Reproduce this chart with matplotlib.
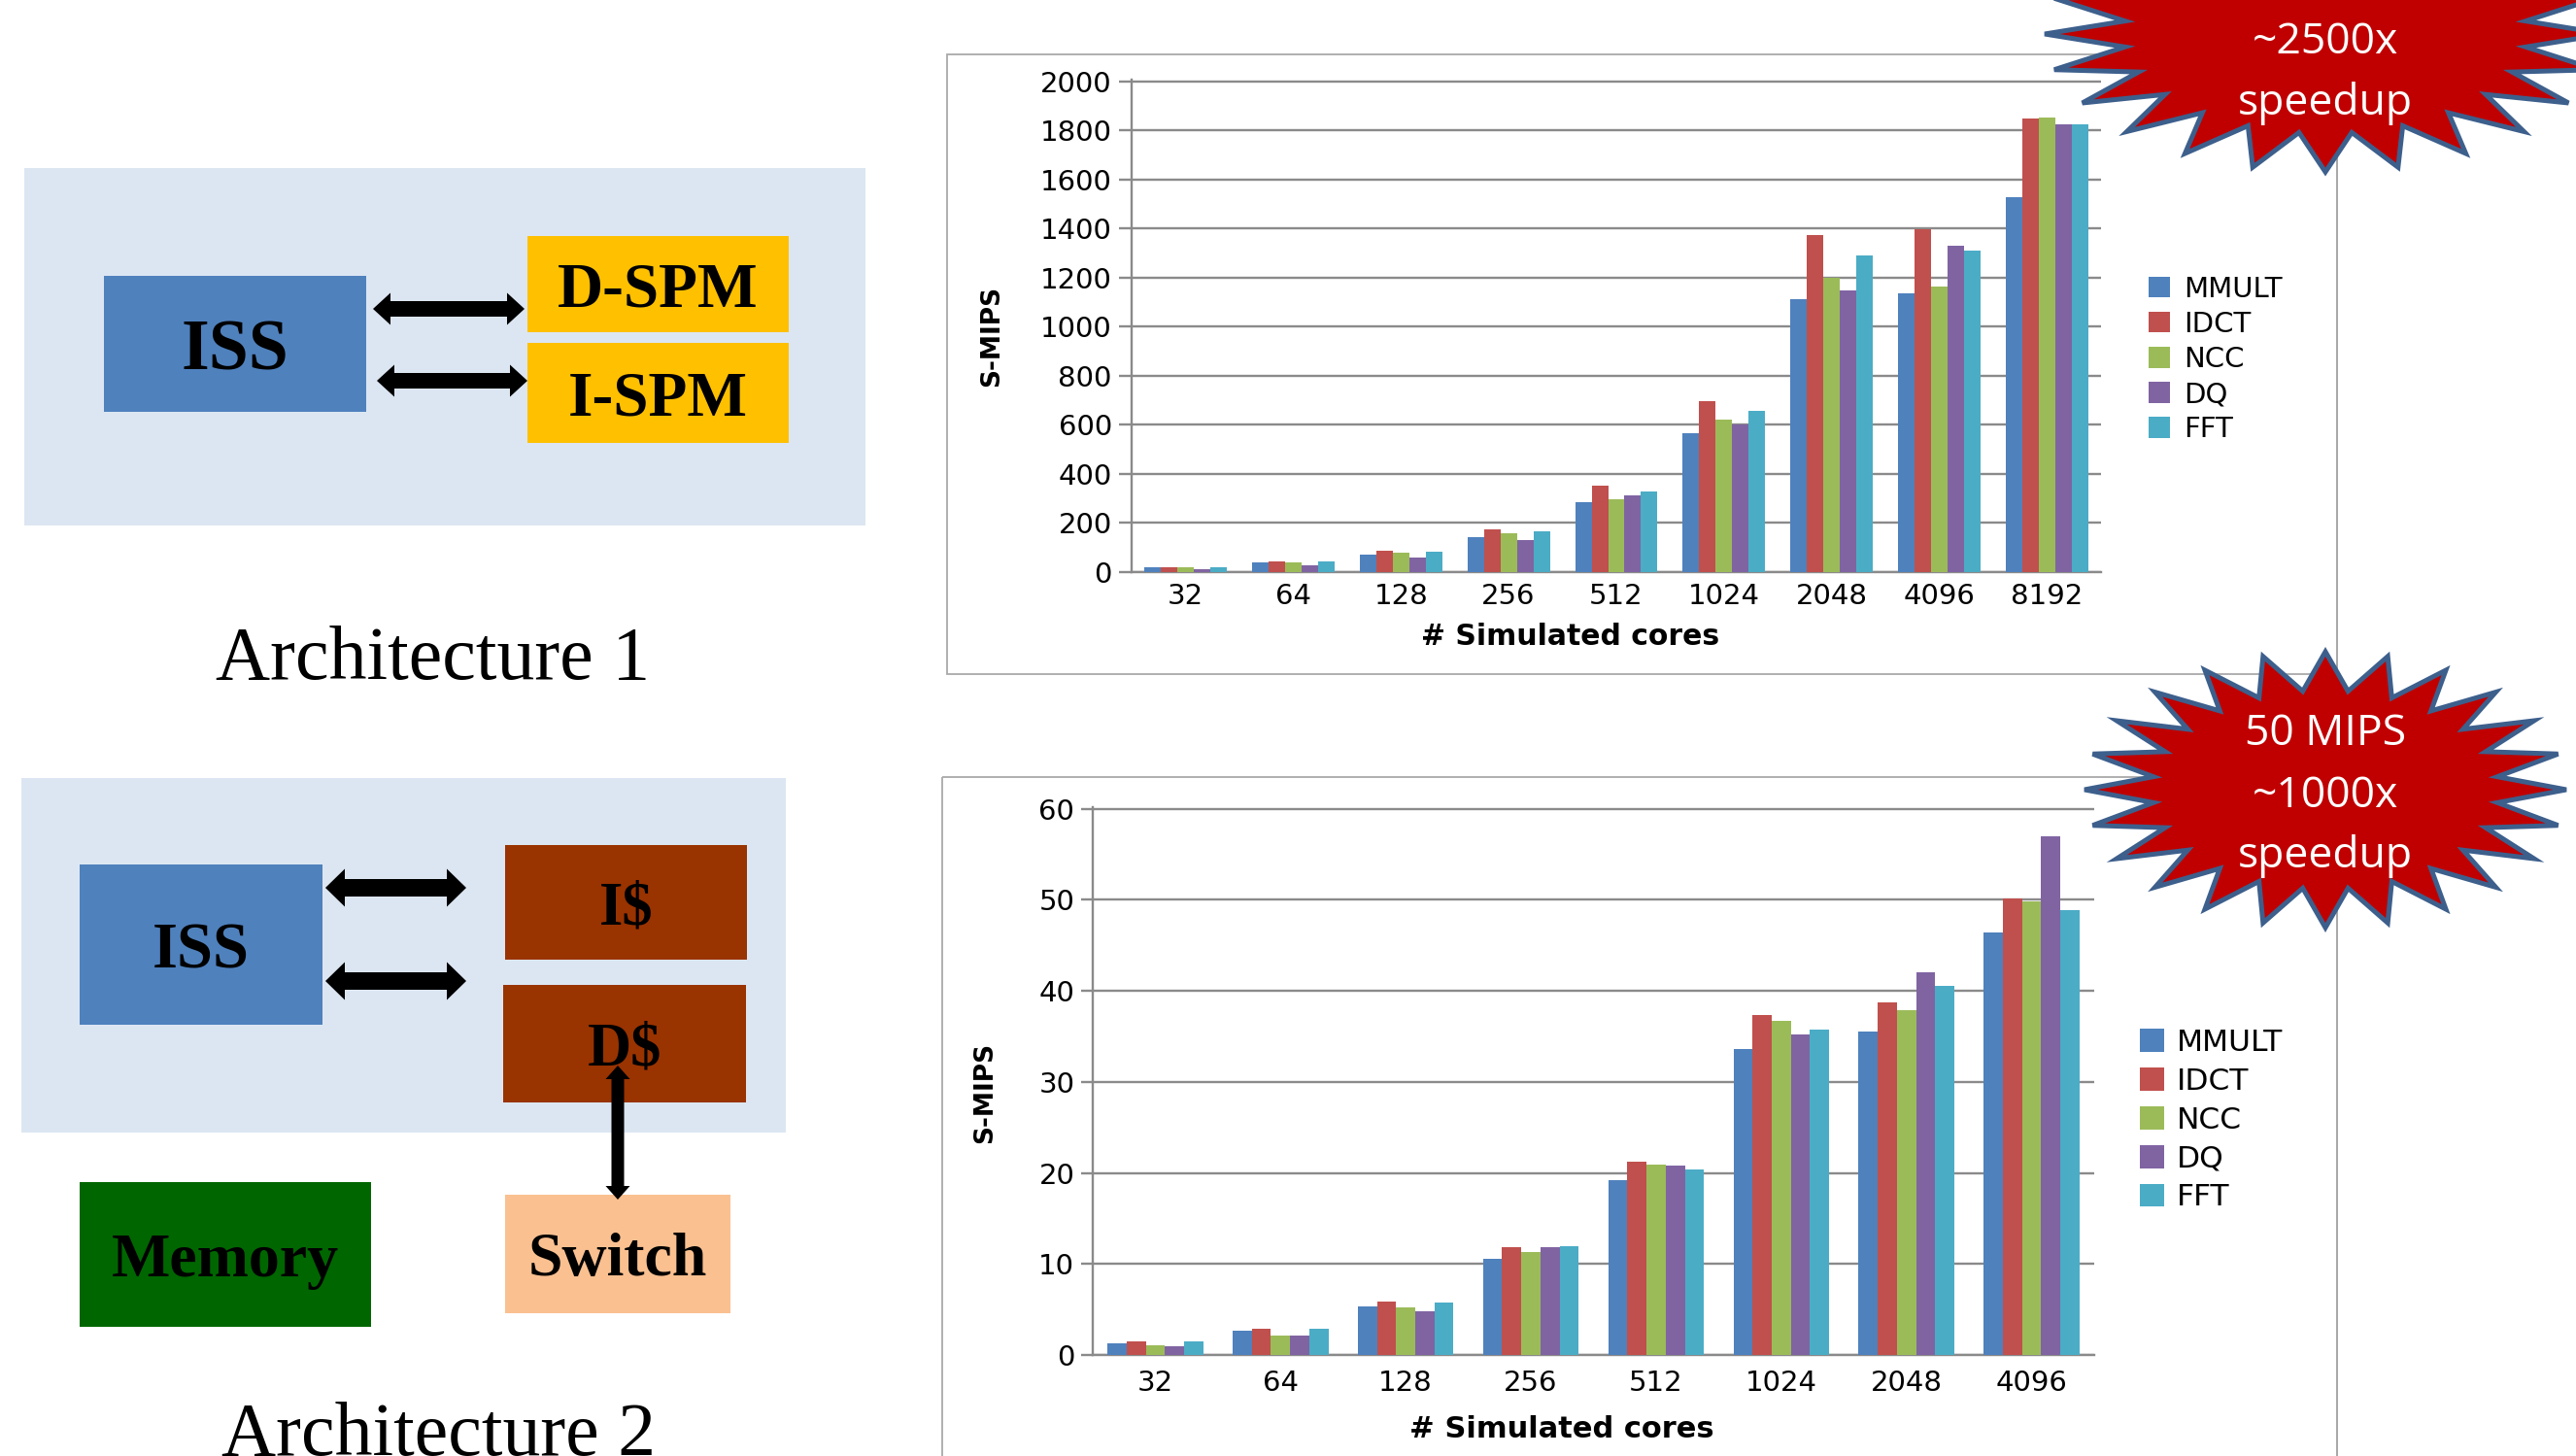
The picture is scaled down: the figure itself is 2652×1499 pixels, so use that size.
"""Recreate the architecture / S-MIPS scaling slide."""

from __future__ import annotations

import matplotlib

matplotlib.use("Agg")
import matplotlib.pyplot as plt
import numpy as np
from matplotlib.patches import Polygon, Rectangle

W, H = 2652, 1499
DPI = 100

BENCHMARKS = ["MMULT", "IDCT", "NCC", "DQ", "FFT"]
COLORS = ["#4F81BD", "#C0504D", "#9BBB59", "#8064A2", "#4BACC6"]
GRID = "#8A8A8A"
FRAME = "#A9A9A9"

# Architecture 1: scratchpad memories
ARCH1_CORES = ["32", "64", "128", "256", "512", "1024", "2048", "4096", "8192"]
ARCH1_MMULT = [20, 38, 70, 142, 285, 565, 1110, 1136, 1529]
ARCH1_IDCT = [21, 44, 87, 175, 352, 697, 1373, 1396, 1849]
ARCH1_NCC = [21, 39, 79, 159, 298, 623, 1197, 1165, 1851]
ARCH1_DQ = [13, 28, 59, 129, 313, 601, 1149, 1329, 1825]
ARCH1_FFT = [20, 43, 83, 165, 329, 655, 1291, 1309, 1825]

# Architecture 2: caches + switch
ARCH2_CORES = ["32", "64", "128", "256", "512", "1024", "2048", "4096"]
ARCH2_MMULT = [1.3, 2.7, 5.3, 10.6, 19.2, 33.6, 35.5, 46.4]
ARCH2_IDCT = [1.5, 2.9, 5.9, 11.8, 21.2, 37.3, 38.7, 50.1]
ARCH2_NCC = [1.1, 2.1, 5.2, 11.3, 20.9, 36.7, 37.9, 49.8]
ARCH2_DQ = [0.95, 2.1, 4.8, 11.8, 20.8, 35.2, 42.0, 57.0]
ARCH2_FFT = [1.5, 2.9, 5.8, 11.9, 20.4, 35.7, 40.5, 48.9]


def fig_rect(x0: float, y0: float, x1: float, y1: float) -> list[float]:
    """Pixel box (top-left origin) -> figure fraction rect."""
    return [x0 / W, 1 - y1 / H, (x1 - x0) / W, (y1 - y0) / H]


def bar_chart(ax, cores, series, ymax, ystep, tick_len, xpad) -> None:
    x = np.arange(len(cores))
    width = 0.153
    for i, (name, values, color) in enumerate(zip(BENCHMARKS, series, COLORS)):
        ax.bar(x + (i - 2) * width, values, width, color=color, label=name, zorder=3)
    ax.set_xlim(-0.5, len(cores) - 0.5)
    ax.set_ylim(0, ymax * 1.003)
    ax.set_yticks(np.arange(0, ymax + 1e-9, ystep))
    ax.set_xticks(x, cores)
    ax.grid(axis="y", color=GRID, linewidth=1.7, zorder=0)
    ax.set_axisbelow(True)
    for side in ("top", "right"):
        ax.spines[side].set_visible(False)
    for side in ("left", "bottom"):
        ax.spines[side].set_color(GRID)
        ax.spines[side].set_linewidth(1.7)
    ax.tick_params(axis="y", length=tick_len, width=1.7, color=GRID, pad=5, labelsize=21)
    ax.tick_params(axis="x", length=0, pad=xpad, labelsize=21)
    ax.patch.set_alpha(0)


def add_legend(ax, fig, x, y, size, hsize, textpad, spacing) -> None:
    ax.legend(
        loc="center left",
        bbox_to_anchor=(x / W, 1 - y / H),
        bbox_transform=fig.transFigure,
        frameon=False,
        fontsize=size,
        handlelength=hsize,
        handleheight=hsize,
        handletextpad=textpad,
        labelspacing=spacing,
        borderpad=0,
        borderaxespad=0,
    )


def star_outline(cx, cy, rx, ry, points=24, inner=0.72) -> np.ndarray:
    idx = np.arange(2 * points)
    ang = np.pi / 2 + idx * np.pi / points
    r = np.where(idx % 2 == 0, 1.0, inner)
    return np.column_stack([cx + rx * r * np.cos(ang), cy - ry * r * np.sin(ang)])


def h_arrow(ax, x0, x1, y, shaft, head_w, head_l) -> None:
    s, h = shaft / 2, head_w / 2
    pts = [
        (x0, y), (x0 + head_l, y - h), (x0 + head_l, y - s), (x1 - head_l, y - s),
        (x1 - head_l, y - h), (x1, y), (x1 - head_l, y + h), (x1 - head_l, y + s),
        (x0 + head_l, y + s), (x0 + head_l, y + h),
    ]
    ax.add_patch(Polygon(pts, closed=True, facecolor="black", edgecolor="none", zorder=4))


def v_arrow(ax, x, y0, y1, shaft, head_w, head_l) -> None:
    s, h = shaft / 2, head_w / 2
    pts = [
        (x, y0), (x + h, y0 + head_l), (x + s, y0 + head_l), (x + s, y1 - head_l),
        (x + h, y1 - head_l), (x, y1), (x - h, y1 - head_l), (x - s, y1 - head_l),
        (x - s, y0 + head_l), (x - h, y0 + head_l),
    ]
    ax.add_patch(Polygon(pts, closed=True, facecolor="black", edgecolor="none", zorder=4))


def box(ax, x0, y0, x1, y1, color, text=None, size=46) -> None:
    ax.add_patch(Rectangle((x0, y0), x1 - x0, y1 - y0, facecolor=color, edgecolor="none", zorder=2))
    if text:
        ax.text((x0 + x1) / 2, (y0 + y1) / 2, text, ha="center", va="center_baseline",
                fontsize=size, fontweight="bold", family="Liberation Serif", zorder=3)


def draw_diagrams(ax) -> None:
    # Architecture 1
    box(ax, 25, 173, 891, 541, "#DCE6F2")
    box(ax, 107, 284, 377, 424, "#4F81BD", "ISS", 53)
    box(ax, 543, 243, 812, 342, "#FFC000", "D-SPM", 47)
    box(ax, 543, 353, 812, 456, "#FFC000", "I-SPM", 47)
    h_arrow(ax, 384, 540, 318, 16, 33, 18)
    h_arrow(ax, 388, 543, 392, 16, 33, 18)
    ax.text(446, 699, "Architecture 1", ha="center", va="baseline", fontsize=56,
            family="Liberation Serif")

    # Architecture 2 (caption runs off the bottom edge, as on the slide)
    box(ax, 22, 801, 809, 1166, "#DCE6F2")
    box(ax, 82, 890, 332, 1055, "#4F81BD", "ISS", 48)
    box(ax, 520, 870, 769, 988, "#993300", "I$", 45)
    box(ax, 518, 1014, 768, 1135, "#993300", "D$", 45)
    box(ax, 82, 1217, 382, 1366, "#006600", "Memory", 46)
    box(ax, 520, 1230, 752, 1352, "#FAC090", "Switch", 46)
    h_arrow(ax, 335, 480, 914, 18, 39, 20)
    h_arrow(ax, 335, 480, 1010, 18, 39, 20)
    v_arrow(ax, 636, 1097, 1235, 13, 25, 14)
    ax.text(451, 1498, "Architecture 2", ha="center", va="baseline", fontsize=56,
            family="Liberation Serif")


def draw_callouts(ax) -> None:
    # chart frames + the shared right border
    ax.add_patch(Rectangle((975, 56), 2406 - 975, 694 - 56, fill=False, edgecolor=FRAME, linewidth=1.3))
    ax.add_patch(Rectangle((970, 800), 2406 - 970, 800, fill=False, edgecolor=FRAME, linewidth=1.3))
    ax.plot([2406, 2406], [0, H], color=FRAME, linewidth=1.3)

    for cx, cy, rx, ry, lines in [
        (2394, 35, 289, 142, [("~2500x", 55), ("speedup", 118)]),
        (2394, 813, 248, 142, [("50 MIPS", 767), ("~1000x", 831), ("speedup", 893)]),
    ]:
        ax.add_patch(Polygon(star_outline(cx, cy, rx, ry), closed=True, facecolor="#C00000",
                             edgecolor="#3D5F8C", linewidth=3.6, zorder=5))
        for text, base in lines:
            ax.text(cx, base, text, ha="center", va="baseline", color="white", fontsize=32,
                    family="Open Sans", zorder=6)


def main() -> None:
    fig = plt.figure(figsize=(W / DPI, H / DPI), dpi=DPI)
    fig.patch.set_facecolor("white")

    top = fig.add_axes(fig_rect(1165, 82, 2163, 589))
    bar_chart(top, ARCH1_CORES, [ARCH1_MMULT, ARCH1_IDCT, ARCH1_NCC, ARCH1_DQ, ARCH1_FFT],
              2000, 200, 9.5, 8)
    top.set_xlabel("# Simulated cores", fontsize=21.5, fontweight="bold")
    top.set_ylabel("S-MIPS", fontsize=19, fontweight="bold")
    top.xaxis.set_label_coords((1617 - 1165) / 998, (589 - 655) / 507)
    top.yaxis.set_label_coords((1021 - 1165) / 998, (589 - 346) / 507)
    top.xaxis.label.set_va("center")
    top.yaxis.label.set_va("center")
    add_legend(top, fig, 2212, 370, 21, 0.75, 0.5, 0.28)

    bottom = fig.add_axes(fig_rect(1125, 831, 2156, 1395))
    bar_chart(bottom, ARCH2_CORES, [ARCH2_MMULT, ARCH2_IDCT, ARCH2_NCC, ARCH2_DQ, ARCH2_FFT],
              60, 10, 8.5, 11)
    bottom.set_xlabel("# Simulated cores", fontsize=22, fontweight="bold")
    bottom.set_ylabel("S-MIPS", fontsize=19, fontweight="bold")
    bottom.xaxis.set_label_coords((1608 - 1125) / 1031, (1395 - 1471) / 564)
    bottom.yaxis.set_label_coords((1014 - 1125) / 1031, (1395 - 1125) / 564)
    bottom.xaxis.label.set_va("center")
    bottom.yaxis.label.set_va("center")
    add_legend(bottom, fig, 2203, 1153, 22.5, 0.8, 0.42, 0.35)

    overlay = fig.add_axes([0, 0, 1, 1])
    overlay.set_xlim(0, W)
    overlay.set_ylim(H, 0)
    overlay.axis("off")
    overlay.patch.set_alpha(0)
    draw_diagrams(overlay)
    draw_callouts(overlay)

    fig.savefig("out.png", dpi=DPI)
    plt.close(fig)


if __name__ == "__main__":
    main()
